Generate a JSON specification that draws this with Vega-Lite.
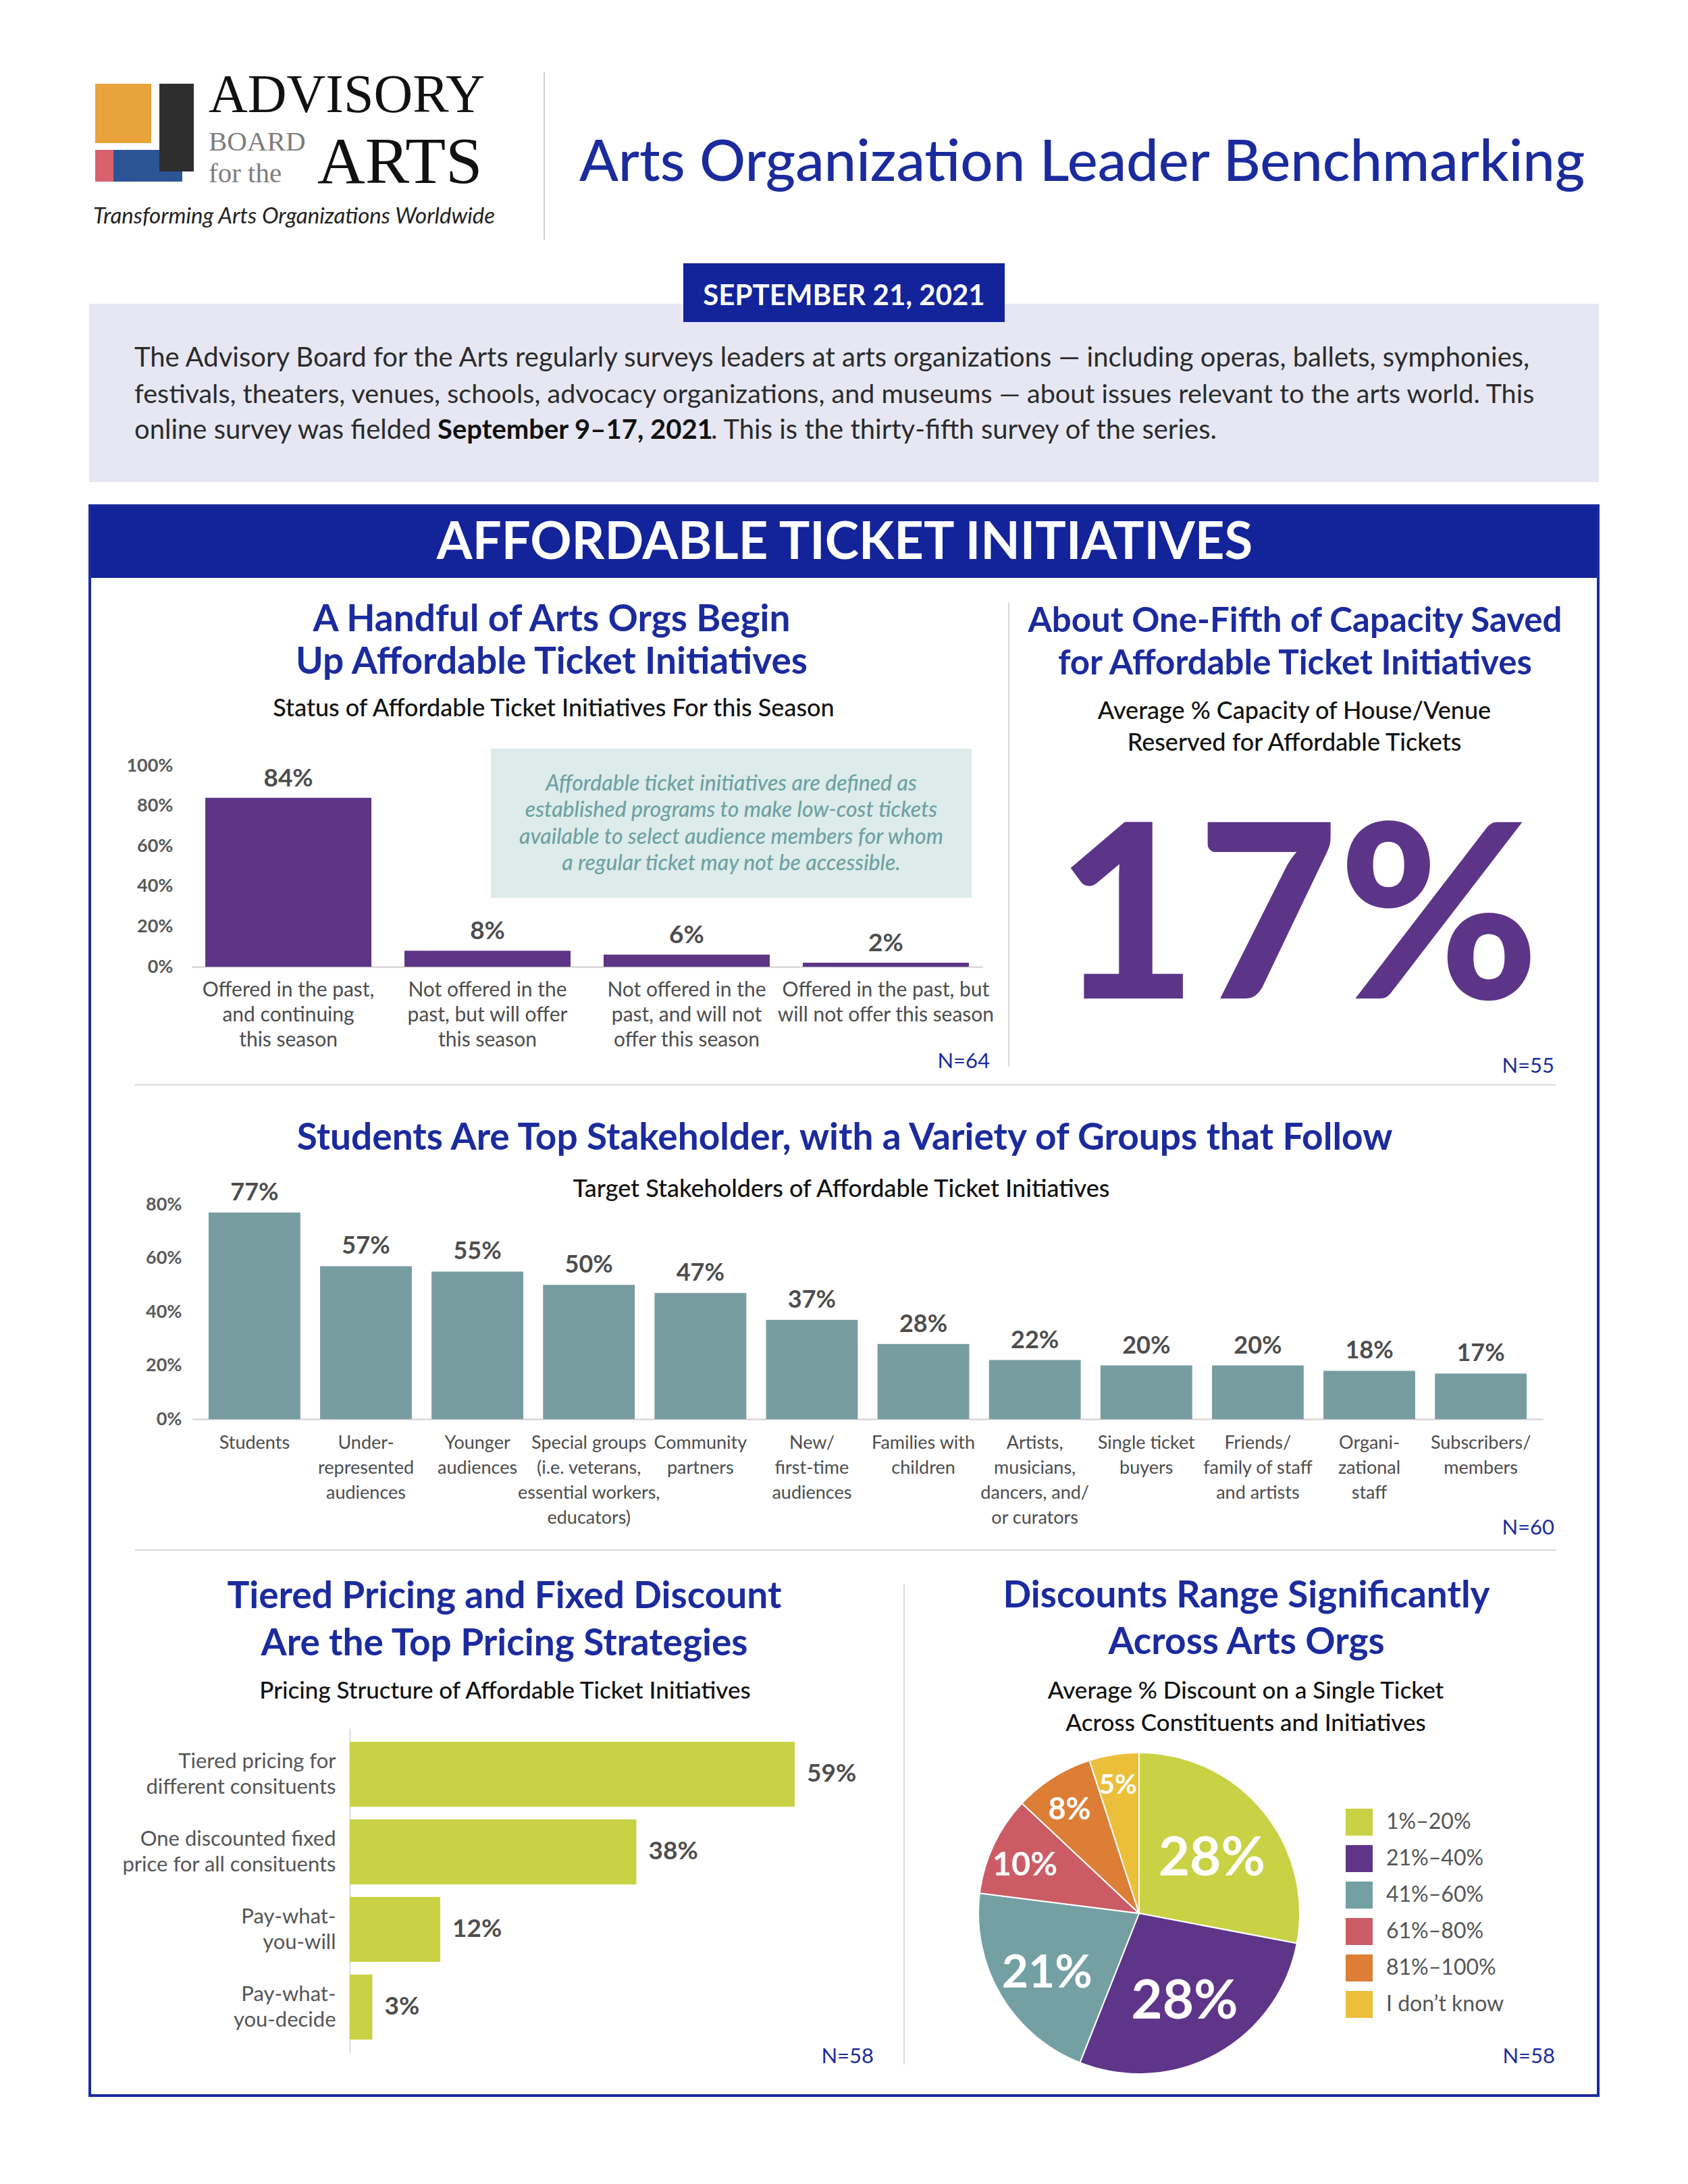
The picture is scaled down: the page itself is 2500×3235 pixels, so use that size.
{
  "$schema": "https://vega.github.io/schema/vega-lite/v6.json",
  "width": 2500,
  "height": 3235,
  "autosize": "none",
  "padding": 0,
  "background": "white",
  "config": {
    "view": {"stroke": null},
    "font": "Lato",
    "text": {"font": "Lato", "baseline": "alphabetic"},
    "axis": {"labelFont": "Lato", "titleFont": "Lato"},
    "legend": {"labelFont": "Lato"}
  },
  "data": {"values": [{}]},
  "datasets": {
    "status": [
      {"status": "Offered in the past,\nand continuing\nthis season", "share": 0.84},
      {"status": "Not offered in the\npast, but will offer\nthis season", "share": 0.08},
      {"status": "Not offered in the\npast, and will not\noffer this season", "share": 0.06},
      {"status": "Offered in the past, but\nwill not offer this season", "share": 0.02}
    ],
    "stakeholders": [
      {"group": "Students", "share": 0.77},
      {"group": "Under-\nrepresented\naudiences", "share": 0.57},
      {"group": "Younger\naudiences", "share": 0.55},
      {"group": "Special groups\n(i.e. veterans,\nessential workers,\neducators)", "share": 0.50},
      {"group": "Community\npartners", "share": 0.47},
      {"group": "New/\nfirst-time\naudiences", "share": 0.37},
      {"group": "Families with\nchildren", "share": 0.28},
      {"group": "Artists,\nmusicians,\ndancers, and/\nor curators", "share": 0.22},
      {"group": "Single ticket\nbuyers", "share": 0.20},
      {"group": "Friends/\nfamily of staff\nand artists", "share": 0.20},
      {"group": "Organi-\nzational\nstaff", "share": 0.18},
      {"group": "Subscribers/\nmembers", "share": 0.17}
    ],
    "pricing": [
      {"structure": "Tiered pricing for\ndifferent consituents", "share": 0.59},
      {"structure": "One discounted fixed\nprice for all consituents", "share": 0.38},
      {"structure": "Pay-what-\nyou-will", "share": 0.12},
      {"structure": "Pay-what-\nyou-decide", "share": 0.03}
    ],
    "discount": [
      {"range": "1%–20%", "share": 0.28},
      {"range": "21%–40%", "share": 0.28},
      {"range": "41%–60%", "share": 0.21},
      {"range": "61%–80%", "share": 0.10},
      {"range": "81%–100%", "share": 0.08},
      {"range": "I don’t know", "share": 0.05}
    ]
  },
  "layer": [
    {"mark": {"type": "rect", "color": "#e6e7f3"}, "encoding": {"x": {"value": 132}, "x2": {"value": 2368}, "y": {"value": 450}, "y2": {"value": 714}}},
    {"mark": {"type": "rect", "color": "#13239a"}, "encoding": {"x": {"value": 1012}, "x2": {"value": 1488}, "y": {"value": 390}, "y2": {"value": 477}}},
    {"mark": {"type": "text", "text": "SEPTEMBER 21, 2021", "x": 1250, "y": 452, "align": "center", "fontSize": 42, "fontWeight": "bold", "color": "white"}},
    {"mark": {"type": "text", "text": "The Advisory Board for the Arts regularly surveys leaders at arts organizations — including  operas, ballets, symphonies,", "x": 199, "y": 543, "align": "left", "fontSize": 40, "color": "#2b2b2b"}},
    {"mark": {"type": "text", "text": "festivals, theaters, venues, schools, advocacy organizations, and museums — about issues relevant to the arts world. This", "x": 199, "y": 597, "align": "left", "fontSize": 39.5, "color": "#2b2b2b"}},
    {"mark": {"type": "text", "text": "online survey was fielded", "x": 199, "y": 650, "align": "left", "fontSize": 40, "color": "#2b2b2b"}},
    {"mark": {"type": "text", "text": "September 9–17, 2021", "x": 648, "y": 650, "align": "left", "fontSize": 40, "fontWeight": "bold", "color": "#111111"}},
    {"mark": {"type": "text", "text": ". This is the thirty-fifth survey of the series.", "x": 1053, "y": 650, "align": "left", "fontSize": 40, "color": "#2b2b2b"}},

    {"mark": {"type": "rect", "color": "#e8a33c"}, "encoding": {"x": {"value": 141}, "x2": {"value": 224}, "y": {"value": 124}, "y2": {"value": 212}}},
    {"mark": {"type": "rect", "color": "#d8616d"}, "encoding": {"x": {"value": 141}, "x2": {"value": 168}, "y": {"value": 222}, "y2": {"value": 269}}},
    {"mark": {"type": "rect", "color": "#2c5596"}, "encoding": {"x": {"value": 168}, "x2": {"value": 270}, "y": {"value": 222}, "y2": {"value": 269}}},
    {"mark": {"type": "rect", "color": "#2e2e2e"}, "encoding": {"x": {"value": 236}, "x2": {"value": 287}, "y": {"value": 124}, "y2": {"value": 254}}},
    {"mark": {"type": "text", "text": "ADVISORY", "x": 309, "y": 166, "align": "left", "font": "Liberation Serif", "fontSize": 80, "color": "#111111"}},
    {"mark": {"type": "text", "text": ["BOARD", "for the"], "x": 309, "y": 223, "align": "left", "font": "Liberation Serif", "fontSize": 41, "lineHeight": 47, "color": "#7d7d7d"}},
    {"mark": {"type": "text", "text": "ARTS", "x": 470, "y": 271, "align": "left", "font": "Liberation Serif", "fontSize": 98, "color": "#111111"}},
    {"mark": {"type": "text", "text": "Transforming Arts Organizations Worldwide", "x": 138, "y": 331, "align": "left", "fontSize": 33, "fontStyle": "italic", "color": "#222222"}},
    {"mark": {"type": "rule", "color": "#cfcfcf", "strokeWidth": 2}, "encoding": {"x": {"value": 806}, "y": {"value": 107}, "y2": {"value": 355}}},
    {"mark": {"type": "text", "text": "Arts Organization Leader Benchmarking", "x": 858, "y": 268, "align": "left", "fontSize": 85, "fontWeight": 500, "color": "#1b2b9e"}},

    {"mark": {"type": "rect", "color": "#13239a"}, "encoding": {"x": {"value": 133}, "x2": {"value": 2367}, "y": {"value": 749}, "y2": {"value": 856}}},
    {"mark": {"type": "rect", "fill": "transparent", "stroke": "#1b2b9e", "strokeWidth": 4}, "encoding": {"x": {"value": 133}, "x2": {"value": 2367}, "y": {"value": 749}, "y2": {"value": 3104}}},
    {"mark": {"type": "text", "text": "AFFORDABLE TICKET INITIATIVES", "x": 1251, "y": 828, "align": "center", "fontSize": 76, "fontWeight": "bold", "color": "white"}},

    {"mark": {"type": "text", "text": "A Handful of Arts Orgs Begin", "x": 817, "y": 935, "align": "center", "fontSize": 55, "fontWeight": "bold", "color": "#1b2b9e"}},
    {"mark": {"type": "text", "text": "Up Affordable Ticket Initiatives", "x": 817, "y": 998, "align": "center", "fontSize": 55, "fontWeight": "bold", "color": "#1b2b9e"}},
    {"mark": {"type": "text", "text": "Status of Affordable Ticket Initiatives For this Season", "x": 820, "y": 1061, "align": "center", "fontSize": 36, "fontWeight": 500, "color": "#111111"}},
    {"mark": {"type": "text", "text": "About One-Fifth of Capacity Saved", "x": 1918, "y": 936, "align": "center", "fontSize": 51, "fontWeight": "bold", "color": "#1b2b9e"}},
    {"mark": {"type": "text", "text": "for Affordable Ticket Initiatives", "x": 1918, "y": 999, "align": "center", "fontSize": 51, "fontWeight": "bold", "color": "#1b2b9e"}},
    {"mark": {"type": "text", "text": "Average % Capacity of House/Venue", "x": 1917, "y": 1065, "align": "center", "fontSize": 36, "fontWeight": 500, "color": "#111111"}},
    {"mark": {"type": "text", "text": "Reserved for Affordable Tickets", "x": 1917, "y": 1112, "align": "center", "fontSize": 36, "fontWeight": 500, "color": "#111111"}},
    {"mark": {"type": "text", "text": "Students Are Top Stakeholder, with a Variety of Groups that Follow", "x": 1251, "y": 1703, "align": "center", "fontSize": 55, "fontWeight": "bold", "color": "#1b2b9e"}},
    {"mark": {"type": "text", "text": "Target Stakeholders of Affordable Ticket Initiatives", "x": 1246, "y": 1773, "align": "center", "fontSize": 36, "fontWeight": 500, "color": "#111111"}},
    {"mark": {"type": "text", "text": "Tiered Pricing and Fixed Discount", "x": 747, "y": 2382, "align": "center", "fontSize": 55, "fontWeight": "bold", "color": "#1b2b9e"}},
    {"mark": {"type": "text", "text": "Are the Top Pricing Strategies", "x": 747, "y": 2452, "align": "center", "fontSize": 55, "fontWeight": "bold", "color": "#1b2b9e"}},
    {"mark": {"type": "text", "text": "Pricing Structure of Affordable Ticket Initiatives", "x": 748, "y": 2516, "align": "center", "fontSize": 35, "fontWeight": 500, "color": "#111111"}},
    {"mark": {"type": "text", "text": "Discounts Range Significantly", "x": 1846, "y": 2381, "align": "center", "fontSize": 55, "fontWeight": "bold", "color": "#1b2b9e"}},
    {"mark": {"type": "text", "text": "Across Arts Orgs", "x": 1846, "y": 2450, "align": "center", "fontSize": 55, "fontWeight": "bold", "color": "#1b2b9e"}},
    {"mark": {"type": "text", "text": "Average % Discount on a Single Ticket", "x": 1845, "y": 2516, "align": "center", "fontSize": 35, "fontWeight": 500, "color": "#111111"}},
    {"mark": {"type": "text", "text": "Across Constituents and Initiatives", "x": 1845, "y": 2564, "align": "center", "fontSize": 35, "fontWeight": 500, "color": "#111111"}},

    {"mark": {"type": "text", "text": "N=64", "x": 1466, "y": 1582, "align": "right", "fontSize": 31, "color": "#1b2b9e"}},
    {"mark": {"type": "text", "text": "N=55", "x": 2302, "y": 1589, "align": "right", "fontSize": 31, "color": "#1b2b9e"}},
    {"mark": {"type": "text", "text": "N=60", "x": 2302, "y": 2273, "align": "right", "fontSize": 31, "color": "#1b2b9e"}},
    {"mark": {"type": "text", "text": "N=58", "x": 1294, "y": 3056, "align": "right", "fontSize": 31, "color": "#1b2b9e"}},
    {"mark": {"type": "text", "text": "N=58", "x": 2303, "y": 3056, "align": "right", "fontSize": 31, "color": "#1b2b9e"}},

    {"mark": {"type": "rect", "color": "#ddecea"}, "encoding": {"x": {"value": 727}, "x2": {"value": 1439}, "y": {"value": 1109}, "y2": {"value": 1330}}},
    {"mark": {"type": "text", "text": "Affordable ticket initiatives are defined as", "x": 1083, "y": 1171, "align": "center", "fontSize": 32, "fontStyle": "italic", "fontWeight": 500, "color": "#6ea1a3"}},
    {"mark": {"type": "text", "text": "established programs to make low-cost tickets", "x": 1083, "y": 1210, "align": "center", "fontSize": 32, "fontStyle": "italic", "fontWeight": 500, "color": "#6ea1a3"}},
    {"mark": {"type": "text", "text": "available to select audience members for whom", "x": 1083, "y": 1250, "align": "center", "fontSize": 32, "fontStyle": "italic", "fontWeight": 500, "color": "#6ea1a3"}},
    {"mark": {"type": "text", "text": "a regular ticket may not be accessible.", "x": 1083, "y": 1289, "align": "center", "fontSize": 32, "fontStyle": "italic", "fontWeight": 500, "color": "#6ea1a3"}},

    {"mark": {"type": "rule", "color": "#d9d9d9", "strokeWidth": 2}, "encoding": {"x": {"value": 1494}, "y": {"value": 893}, "y2": {"value": 1580}}},
    {"mark": {"type": "rule", "color": "#d9d9d9", "strokeWidth": 2}, "encoding": {"x": {"value": 200}, "x2": {"value": 2304}, "y": {"value": 1607}}},
    {"mark": {"type": "rule", "color": "#d9d9d9", "strokeWidth": 2}, "encoding": {"x": {"value": 200}, "x2": {"value": 2304}, "y": {"value": 2296}}},
    {"mark": {"type": "rule", "color": "#d9d9d9", "strokeWidth": 2}, "encoding": {"x": {"value": 1339}, "y": {"value": 2346}, "y2": {"value": 3058}}},

    {"mark": {"type": "text", "text": "17%", "x": 1922, "y": 1479, "align": "center", "fontSize": 360, "fontWeight": 900, "color": "#5c3589"}},

    {
      "data": {"name": "status"},
      "encoding": {
        "x": {
          "field": "status", "type": "nominal", "sort": null,
          "scale": {"range": [284, 1455], "paddingInner": 0.166, "paddingOuter": 0.068},
          "axis": {"orient": "bottom", "offset": -1803, "title": null, "labelAngle": 0, "labelExpr": "split(datum.label, '\\n')", "labelFontSize": 30, "labelColor": "#4d4d4d", "labelLineHeight": 37, "labelPadding": 19, "ticks": false, "domain": true, "domainColor": "#cfcfcf", "domainWidth": 2, "labelLimit": 500, "labelOverlap": false, "grid": false}
        },
        "y": {
          "field": "share", "type": "quantitative",
          "scale": {"domain": [0, 1], "range": [1432, 1134], "nice": false},
          "axis": {"orient": "left", "offset": -264, "values": [0, 0.2, 0.4, 0.6, 0.8, 1], "format": ".0%", "title": null, "domain": false, "ticks": false, "grid": false, "labelPadding": 8, "labelFontSize": 27, "labelFontWeight": "bold", "labelColor": "#595959"}
        }
      },
      "layer": [
        {"mark": {"type": "bar", "color": "#5d3486"}},
        {"mark": {"type": "text", "baseline": "alphabetic", "dy": -17, "fontSize": 37, "fontWeight": "bold", "color": "#4d4d4d"}, "encoding": {"text": {"field": "share", "type": "quantitative", "format": ".0%"}}}
      ]
    },

    {
      "data": {"name": "stakeholders"},
      "encoding": {
        "x": {
          "field": "group", "type": "nominal", "sort": null,
          "scale": {"range": [285, 2285], "paddingInner": 0.177, "paddingOuter": 0.145},
          "axis": {"orient": "bottom", "offset": -1133, "title": null, "labelAngle": 0, "labelExpr": "split(datum.label, '\\n')", "labelFontSize": 27, "labelColor": "#4d4d4d", "labelLineHeight": 37, "labelPadding": 22, "ticks": false, "domain": true, "domainColor": "#cfcfcf", "domainWidth": 2, "labelLimit": 500, "labelOverlap": false, "grid": false}
        },
        "y": {
          "field": "share", "type": "quantitative",
          "scale": {"domain": [0, 1], "range": [2102, 1704.5], "nice": false},
          "axis": {"orient": "left", "offset": -277, "values": [0, 0.2, 0.4, 0.6, 0.8], "format": ".0%", "title": null, "domain": false, "ticks": false, "grid": false, "labelPadding": 8, "labelFontSize": 27, "labelFontWeight": "bold", "labelColor": "#595959"}
        }
      },
      "layer": [
        {"mark": {"type": "bar", "color": "#789da0"}},
        {"mark": {"type": "text", "baseline": "alphabetic", "dy": -18, "fontSize": 36, "fontWeight": "bold", "color": "#4d4d4d"}, "encoding": {"text": {"field": "share", "type": "quantitative", "format": ".0%"}}}
      ]
    },

    {
      "data": {"name": "pricing"},
      "encoding": {
        "y": {
          "field": "structure", "type": "nominal", "sort": null,
          "scale": {"range": [2560, 3041], "paddingInner": 0.163, "paddingOuter": 0.175},
          "axis": {"orient": "left", "offset": -518, "title": null, "labelExpr": "split(datum.label, '\\n')", "labelFontSize": 31, "labelColor": "#555555", "labelLineHeight": 38, "labelPadding": 21, "labelOffset": -18, "ticks": false, "domain": true, "domainColor": "#d9d9d9", "domainWidth": 2, "labelLimit": 500, "labelOverlap": false, "grid": false}
        },
        "x": {
          "field": "share", "type": "quantitative",
          "scale": {"domain": [0, 1], "range": [518, 1635], "nice": false},
          "axis": null
        }
      },
      "layer": [
        {"mark": {"type": "bar", "color": "#c9d245"}},
        {"mark": {"type": "text", "align": "left", "baseline": "middle", "dx": 18, "fontSize": 37, "fontWeight": "bold", "color": "#4d4d4d"}, "encoding": {"text": {"field": "share", "type": "quantitative", "format": ".0%"}}}
      ]
    },

    {
      "data": {"name": "discount"},
      "encoding": {
        "theta": {"field": "share", "type": "quantitative", "stack": true},
        "order": {"field": "range", "type": "ordinal", "sort": "ascending"}
      },
      "layer": [
        {
          "mark": {"type": "arc", "radius": 238, "stroke": "white", "strokeWidth": 2},
          "encoding": {
            "x": {"value": 1687},
            "y": {"value": 2834},
            "color": {
              "field": "range", "type": "nominal",
              "scale": {"domain": ["1%–20%", "21%–40%", "41%–60%", "61%–80%", "81%–100%", "I don’t know"], "range": ["#c8d244", "#5e3589", "#74a0a4", "#cb5c65", "#dc7e36", "#ecbf3b"]},
              "legend": {"orient": "none", "legendX": 1993, "legendY": 2679, "title": null, "symbolType": "square", "symbolSize": 1600, "symbolStrokeWidth": 0, "labelFontSize": 32, "labelColor": "#555555", "labelOffset": 20, "labelLimit": 400, "rowPadding": 14, "padding": 0, "offset": 0}
            }
          }
        },
        {
          "mark": {"type": "text", "align": "center", "baseline": "middle", "dy": 9, "fontWeight": "bold", "color": "white"},
          "encoding": {
            "x": {"value": 1687},
            "y": {"value": 2834},
            "detail": {"field": "range", "type": "nominal"},
            "radius": {"field": "share", "type": "quantitative", "scale": {"type": "linear", "zero": false, "domain": [0.05, 0.28], "range": [200, 140]}},
            "size": {"field": "share", "type": "quantitative", "scale": {"domain": [0.05, 0.28], "range": [40, 80]}, "legend": null},
            "text": {"field": "share", "type": "quantitative", "format": ".0%"}
          }
        }
      ]
    }
  ],
  "resolve": {
    "scale": {"x": "independent", "y": "independent", "theta": "independent", "radius": "independent", "size": "independent", "color": "independent"},
    "axis": {"x": "independent", "y": "independent"}
  }
}
